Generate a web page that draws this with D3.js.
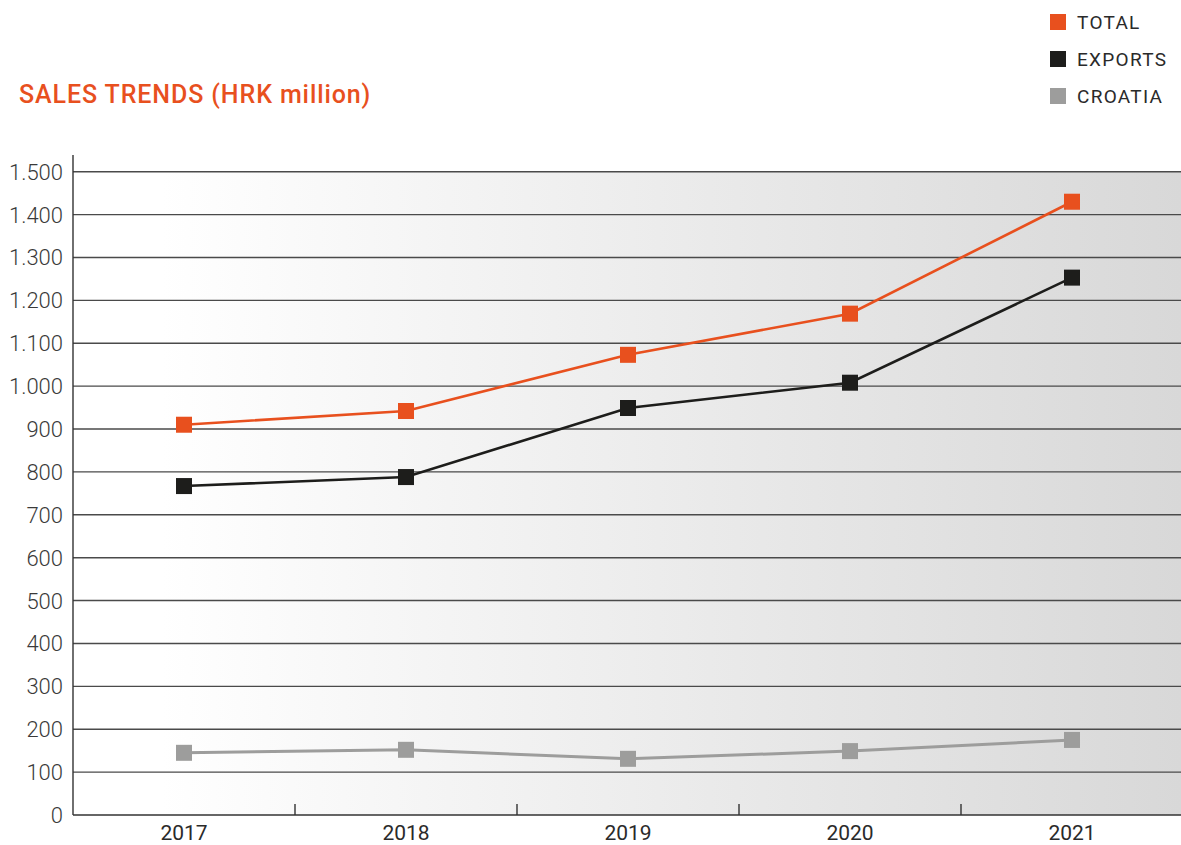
<!DOCTYPE html>
<html>
<head>
<meta charset="utf-8">
<script src="https://cdn.jsdelivr.net/npm/d3@7"></script>
<style>
  html, body { margin: 0; padding: 0; background: #fff; }
  svg { display: block; }
  text { font-family: Roboto, "Open Sans", sans-serif; }
</style>
</head>
<body>
<svg id="chart" width="1181" height="845"></svg>
<script>
// Sales trends, HRK million
const years = ["2017", "2018", "2019", "2020", "2021"];
const total = [910, 942, 1073, 1169, 1430];
const exportsSales = [767, 788, 949, 1008, 1253];
const croatia = [145, 152, 131, 149, 175];
const yTicks = [0, 100, 200, 300, 400, 500, 600, 700, 800, 900, 1000, 1100, 1200, 1300, 1400, 1500];
const seriesNames = ["TOTAL", "EXPORTS", "CROATIA"];
const seriesColors = ["#e8501e", "#1d1d1b", "#9d9d9c"];

const series = [
  { name: seriesNames[0], values: total, color: seriesColors[0], width: 2.6 },
  { name: seriesNames[1], values: exportsSales, color: seriesColors[1], width: 2.6 },
  { name: seriesNames[2], values: croatia, color: seriesColors[2], width: 3 }
];

const svg = d3.select("#chart");
const W = 1181;
const plotLeft = 73, plotRight = 1183, axisTop = 155, plotBottom = 815;

const x = d3.scaleBand().domain(years).range([plotLeft, plotRight]).paddingInner(0).paddingOuter(0);
const y = d3.scaleLinear().domain([0, 1500]).range([plotBottom, 171.7]);

// background gradient
const defs = svg.append("defs");
const grad = defs.append("linearGradient").attr("id", "bg").attr("x1", 0).attr("x2", 1).attr("y1", 0).attr("y2", 0);
grad.append("stop").attr("offset", "0%").attr("stop-color", "#ffffff");
grad.append("stop").attr("offset", "8%").attr("stop-color", "#ffffff");
grad.append("stop").attr("offset", "100%").attr("stop-color", "#d8d8d8");

svg.append("rect")
  .attr("x", plotLeft).attr("y", y(1500))
  .attr("width", W - plotLeft).attr("height", plotBottom - y(1500))
  .attr("fill", "url(#bg)");

// horizontal gridlines
svg.append("g").selectAll("line").data(yTicks.filter(d => d > 0)).join("line")
  .attr("x1", plotLeft).attr("x2", W)
  .attr("y1", d => y(d)).attr("y2", d => y(d))
  .attr("stroke", "#4a4a4a").attr("stroke-width", 1.4);

// y axis labels
svg.append("g").selectAll("text").data(yTicks).join("text")
  .attr("x", 63).attr("y", d => y(d) + 8)
  .attr("text-anchor", "end")
  .attr("font-size", 22).attr("font-weight", 300)
  .attr("fill", "#3a3a3a")
  .text(d => d3.format(",")(d).replace(/,/g, "."));

// axis lines
svg.append("line").attr("x1", plotLeft).attr("x2", plotLeft).attr("y1", axisTop).attr("y2", plotBottom)
  .attr("stroke", "#333").attr("stroke-width", 1.4);
svg.append("line").attr("x1", plotLeft).attr("x2", W).attr("y1", plotBottom).attr("y2", plotBottom)
  .attr("stroke", "#333").attr("stroke-width", 1.4);

// x ticks between categories
svg.append("g").selectAll("line").data(years.slice(1)).join("line")
  .attr("x1", d => x(d)).attr("x2", d => x(d))
  .attr("y1", plotBottom - 11).attr("y2", plotBottom)
  .attr("stroke", "#333").attr("stroke-width", 1.4);

// x labels
svg.append("g").selectAll("text").data(years).join("text")
  .attr("x", d => x(d) + x.bandwidth() / 2).attr("y", 840)
  .attr("text-anchor", "middle")
  .attr("font-size", 21).attr("font-weight", 400)
  .attr("fill", "#2a2a2a")
  .text(d => d);

// lines and markers
const cx = i => x(years[i]) + x.bandwidth() / 2;
const line = d3.line().x((d, i) => cx(i)).y(d => y(d));
const ms = 16;

series.slice().reverse().forEach(s => {
  const g = svg.append("g");
  g.append("path").datum(s.values)
    .attr("d", line).attr("fill", "none")
    .attr("stroke", s.color).attr("stroke-width", s.width);
  g.selectAll("rect").data(s.values).join("rect")
    .attr("x", (d, i) => cx(i) - ms / 2).attr("y", d => y(d) - ms / 2)
    .attr("width", ms).attr("height", ms)
    .attr("fill", s.color);
});

// title
svg.append("text")
  .attr("x", 19).attr("y", 103)
  .attr("font-size", 25).attr("font-weight", 500)
  .attr("letter-spacing", 0.9)
  .attr("fill", "#e8501e")
  .text("SALES TRENDS (HRK million)");

// legend
const lg = svg.append("g").selectAll("g").data(series).join("g")
  .attr("transform", (d, i) => `translate(1050, ${14 + i * 37})`);
lg.append("rect").attr("width", 16).attr("height", 16).attr("fill", d => d.color);
lg.append("text").attr("x", 27).attr("y", 15)
  .attr("font-size", 19).attr("font-weight", 400)
  .attr("letter-spacing", 1.3)
  .attr("fill", "#2a2a2a")
  .text(d => d.name);
</script>
</body>
</html>
